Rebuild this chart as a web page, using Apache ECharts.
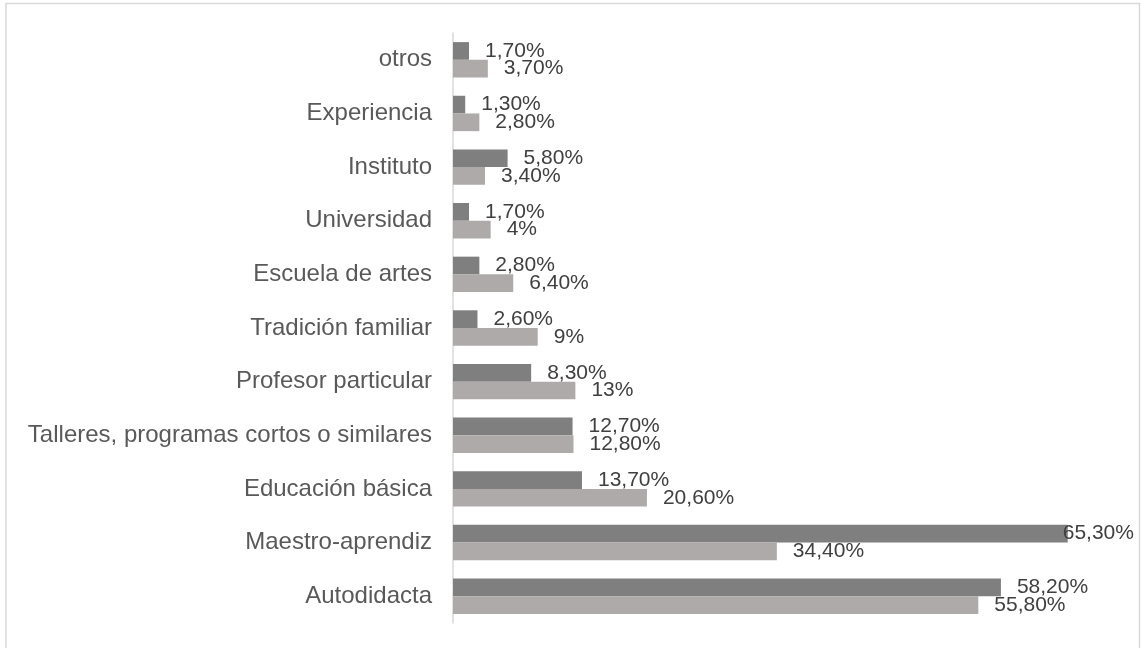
<!DOCTYPE html>
<html>
<head>
<meta charset="utf-8">
<script src="https://cdn.jsdelivr.net/npm/echarts@6/dist/echarts.min.js"></script>
<style>
html,body{margin:0;padding:0;background:#fff;}
#c{width:1141px;height:648px;}
</style>
</head>
<body>
<div id="c"></div>
<script>
// Categories from bottom to top
const categories = ["Autodidacta","Maestro-aprendiz","Educación básica","Talleres, programas cortos o similares","Profesor particular","Tradición familiar","Escuela de artes","Universidad","Instituto","Experiencia","otros"];
const darkValues = [58.2, 65.3, 13.7, 12.7, 8.3, 2.6, 2.8, 1.7, 5.8, 1.3, 1.7];
const lightValues = [55.8, 34.4, 20.6, 12.8, 13, 9, 6.4, 4, 3.4, 2.8, 3.7];

function fmt(v){
  if (Number.isInteger(v)) return v + "%";
  return v.toFixed(2).replace(".", ",") + "%";
}
const XMAX = 70;
function build(vals){
  return vals.map(v => {
    if (v > 62) {
      return {value: v, label: {offset: [-21, 0]}};
    }
    return v;
  });
}

const chart = echarts.init(document.getElementById('c'), null, {renderer: 'canvas'});
const labelStyle = {
  show: true,
  position: 'right',
  distance: 16,
  color: '#404040',
  fontFamily: 'Liberation Sans, Arial, sans-serif',
  fontSize: 21,
  formatter: p => fmt(p.value)
};
chart.setOption({
  animation: false,
  backgroundColor: '#ffffff',
  graphic: [{
    type: 'rect',
    shape: {x: 6, y: 3.5, width: 1133.5, height: 700},
    style: {fill: 'none', stroke: '#d9d9d9', lineWidth: 1.5},
    silent: true
  }],
  grid: {left: 453, right: 29, top: 33, bottom: 25, containLabel: false},
  xAxis: {
    type: 'value', min: 0, max: XMAX,
    axisLine: {show: false}, axisTick: {show: false},
    axisLabel: {show: false}, splitLine: {show: false}
  },
  yAxis: {
    type: 'category', data: categories,
    axisLine: {show: true, lineStyle: {color: '#d9d9d9', width: 1.5}},
    axisTick: {show: false},
    axisLabel: {
      color: '#595959', fontSize: 24, margin: 21,
      fontFamily: 'Liberation Sans, Arial, sans-serif'
    }
  },
  series: [
    {
      name: 'A', type: 'bar', data: build(darkValues),
      itemStyle: {color: '#7f7f7f'},
      barGap: '0%', barCategoryGap: '34%',
      label: labelStyle
    },
    {
      name: 'B', type: 'bar', data: build(lightValues),
      itemStyle: {color: '#aeaaaa'},
      barGap: '0%', barCategoryGap: '34%',
      label: labelStyle
    }
  ]
});
</script>
</body>
</html>
